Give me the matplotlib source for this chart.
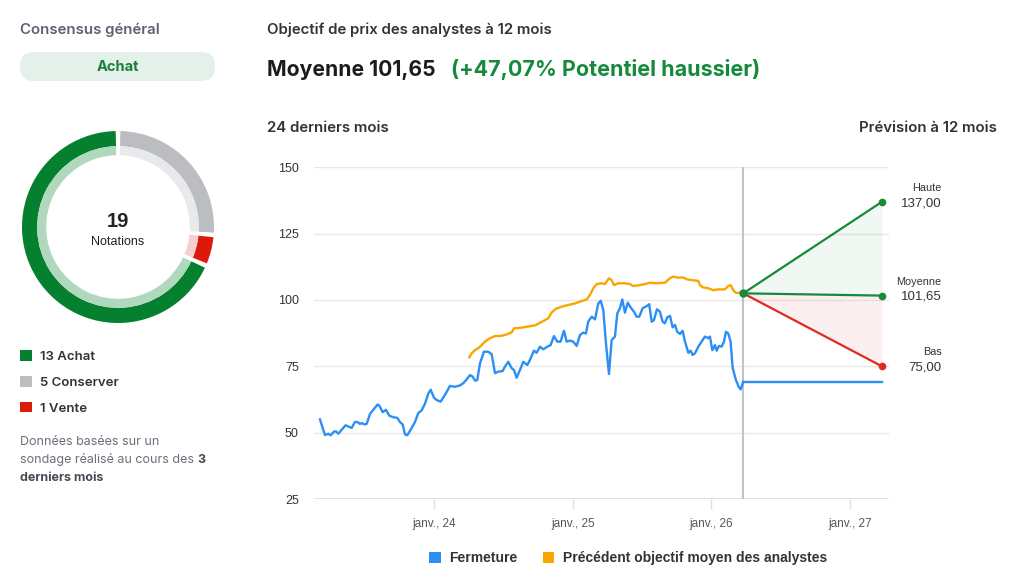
import numpy as np
import matplotlib
matplotlib.use("Agg")
import matplotlib.pyplot as plt
from matplotlib.patches import Wedge, FancyBboxPatch, Patch

# ---- data -------------------------------------------------------------
ratings = ["Achat", "Conserver", "Vente"]
rating_counts = [13, 5, 1]
ring_order = ["Conserver", "Vente", "Achat"]   # clockwise from 12 o'clock

# closing price (decimal years)
close_t = [2023.178, 2023.214, 2023.238, 2023.255, 2023.279, 2023.293, 2023.310, 2023.335,
           2023.363, 2023.382, 2023.407, 2023.430, 2023.450, 2023.466, 2023.481, 2023.497,
           2023.515, 2023.539, 2023.562, 2023.594, 2023.606, 2023.630, 2023.654, 2023.678,
           2023.707, 2023.735, 2023.755, 2023.774, 2023.791, 2023.807, 2023.832, 2023.863,
           2023.887, 2023.911, 2023.935, 2023.959, 2023.976, 2024.000, 2024.019, 2024.048,
           2024.072, 2024.092, 2024.115, 2024.151, 2024.187, 2024.211, 2024.236, 2024.260,
           2024.279, 2024.296, 2024.312, 2024.332, 2024.360, 2024.391, 2024.416, 2024.440,
           2024.464, 2024.495, 2024.512, 2024.536, 2024.560, 2024.577, 2024.596, 2024.620,
           2024.644, 2024.673, 2024.692, 2024.721, 2024.740, 2024.764, 2024.788, 2024.817,
           2024.841, 2024.865, 2024.889, 2024.913, 2024.937, 2024.957, 2024.981, 2025.004,
           2025.029, 2025.053, 2025.076, 2025.096, 2025.112, 2025.137, 2025.161, 2025.185,
           2025.202, 2025.221, 2025.240, 2025.262, 2025.281, 2025.305, 2025.322, 2025.341,
           2025.358, 2025.377, 2025.397, 2025.418, 2025.442, 2025.461, 2025.480, 2025.505,
           2025.534, 2025.552, 2025.570, 2025.586, 2025.608, 2025.629, 2025.649, 2025.665,
           2025.682, 2025.702, 2025.721, 2025.738, 2025.754, 2025.774, 2025.793, 2025.810,
           2025.834, 2025.851, 2025.865, 2025.882, 2025.906, 2025.930, 2025.954, 2025.978,
           2025.990, 2026.007, 2026.026, 2026.038, 2026.055, 2026.074, 2026.091, 2026.105,
           2026.122, 2026.139, 2026.154, 2026.177, 2026.197, 2026.211, 2026.230]
close_v = [55.0, 49.1, 49.6, 49.0, 50.4, 50.5, 49.6, 51.1,
           52.8, 52.3, 51.8, 54.0, 54.0, 53.3, 53.6, 53.1,
           53.3, 57.1, 58.6, 60.6, 60.2, 57.7, 58.6, 56.4,
           55.8, 55.6, 54.0, 53.1, 49.4, 49.0, 51.1, 54.0,
           57.4, 58.4, 60.9, 64.7, 66.2, 63.2, 62.3, 61.7,
           63.6, 65.4, 67.6, 67.3, 67.8, 68.6, 70.1, 71.7,
           71.1, 69.6, 69.8, 76.1, 80.5, 80.5, 79.6, 72.4,
           73.0, 73.2, 74.9, 76.7, 74.3, 73.6, 70.7, 73.6,
           76.7, 75.5, 77.4, 80.9, 80.1, 82.4, 81.4, 82.4,
           83.0, 86.4, 84.3, 84.3, 88.4, 84.3, 84.7, 84.3,
           82.7, 86.8, 87.7, 87.4, 91.8, 93.7, 92.7, 98.7,
           99.7, 96.2, 83.7, 72.1, 84.9, 86.2, 95.0, 96.9,
           100.2, 95.2, 99.0, 97.2, 95.6, 93.7, 93.7, 96.9,
           97.7, 98.4, 91.8, 92.4, 96.5, 95.6, 91.8, 91.2,
           93.5, 94.0, 89.7, 90.6, 88.0, 87.2, 88.4, 84.3,
           80.1, 80.9, 79.3, 79.9, 82.4, 84.3, 86.2, 85.6,
           86.2, 81.1, 83.0, 80.9, 82.7, 82.4, 84.3, 88.0,
           87.4, 84.3, 74.3, 69.9, 67.3, 66.3, 69.1]
last_close = 69.12

# previous average analyst target
target_t = [2024.255, 2024.272, 2024.296, 2024.319, 2024.344, 2024.368, 2024.404, 2024.440,
            2024.488, 2024.524, 2024.560, 2024.577, 2024.620, 2024.668, 2024.728, 2024.764,
            2024.793, 2024.824, 2024.849, 2024.880, 2024.921, 2024.968, 2025.017, 2025.065,
            2025.101, 2025.125, 2025.149, 2025.173, 2025.209, 2025.233, 2025.262, 2025.281,
            2025.298, 2025.329, 2025.377, 2025.413, 2025.433, 2025.473, 2025.521, 2025.557,
            2025.606, 2025.665, 2025.702, 2025.725, 2025.761, 2025.797, 2025.822, 2025.858,
            2025.906, 2025.918, 2025.937, 2025.978, 2026.014, 2026.050, 2026.098, 2026.122,
            2026.139, 2026.158, 2026.177, 2026.201, 2026.230]
target_v = [78.4, 79.9, 81.1, 81.8, 83.0, 84.3, 85.6, 86.4,
            86.5, 87.0, 87.8, 89.3, 89.5, 89.9, 90.4, 91.4,
            92.2, 93.1, 95.3, 96.7, 97.5, 98.1, 98.7, 99.6,
            100.2, 101.9, 104.4, 106.0, 106.3, 106.0, 108.2, 107.5,
            105.6, 106.3, 106.3, 106.0, 105.3, 105.5, 106.0, 106.5,
            106.3, 106.5, 108.2, 108.8, 108.4, 108.5, 107.8, 107.5,
            107.2, 105.6, 104.8, 104.4, 103.7, 104.0, 104.0, 105.3,
            105.6, 103.7, 102.7, 102.7, 102.5]

# 12 month forecast
fc_start, fc_end = 2026.23, 2027.23
fc_from = 102.5
fc_high, fc_mean, fc_low = 137.00, 101.65, 75.00
upside = 47.07

yticks = [25, 50, 75, 100, 125, 150]
xtick_years = [2024, 2025, 2026, 2027]
xtick_labels = ["janv., 24", "janv., 25", "janv., 26", "janv., 27"]

# ---- style ------------------------------------------------------------
W, H = 1024, 577
GREEN, GREY, RED = "#04802f", "#bcbdc1", "#dc1a0a"
GREEN_L, GREY_L, RED_L = "#afd8bd", "#e8e9eb", "#f7cfcd"
BLUE, ORANGE = "#2b8ff3", "#fba500"
FC_GREEN, FC_RED = "#168a3c", "#e02a1e"
HEAD = ["Inter", "DejaVu Sans"]
CHART = ["Liberation Sans", "DejaVu Sans"]


def fbox(x0, y0, x1, y1):
    return [x0 / W, 1 - y1 / H, (x1 - x0) / W, (y1 - y0) / H]


def fr(v):
    return f"{v:.2f}".replace(".", ",")


fig = plt.figure(figsize=(W / 100, H / 100), dpi=100)

# overlay in pixel coords for the page texts
bg = fig.add_axes([0, 0, 1, 1])
bg.set_xlim(0, W)
bg.set_ylim(H, 0)
bg.axis("off")

bg.text(20, 30, "Consensus général", family=HEAD, fontsize=10.8, weight="semibold",
        color="#5d6170", va="center")
bg.add_patch(FancyBboxPatch((20, 52), 195, 29, boxstyle="round,pad=0,rounding_size=14",
                            fc="#e4f0ea", ec="none"))
bg.text(117.5, 67, ratings[0], family=HEAD, fontsize=10.5, weight="bold", color="#1a7f3c",
        ha="center", va="center")

bg.text(267, 30, "Objectif de prix des analystes à 12 mois", family=HEAD, fontsize=10.8,
        weight="semibold", color="#333333", va="center")
t_avg = bg.text(267, 70, "Moyenne " + fr(fc_mean), family=HEAD, fontsize=15.2, weight="bold",
                color="#1c1c1c", va="center")
bg.annotate(f"(+{fr(upside)}% Potentiel haussier)", xy=(1, 0), xycoords=t_avg,
            xytext=(11, 0), textcoords="offset points", family=HEAD, fontsize=15.5,
            weight="bold", color=FC_GREEN, va="bottom")
bg.text(267, 128, "24 derniers mois", family=HEAD, fontsize=10.8, weight="semibold",
        color="#333333", va="center")
bg.text(997, 128, "Prévision à 12 mois", family=HEAD, fontsize=10.8, weight="semibold",
        color="#333333", va="center", ha="right")

# note under the donut legend
note_kw = dict(family=HEAD, fontsize=9, color="#6d6e7c", va="baseline")
bg.text(20, 445, "Données basées sur un", **note_kw)
t_n2 = bg.text(20, 463, "sondage réalisé au cours des ", **note_kw)
fig.canvas.draw()
x_3 = bg.transData.inverted().transform(
    t_n2.get_window_extent(fig.canvas.get_renderer()).get_points())[1, 0]
bg.text(x_3, 463, "3", family=HEAD, fontsize=9, weight="bold", color="#4a4a55",
        va="baseline")
bg.text(20, 481, "derniers mois", family=HEAD, fontsize=9, weight="bold", color="#4a4a55",
        va="baseline")

# ---- donut --------------------------------------------------------------
dax = fig.add_axes(fbox(22, 131, 214, 323))
dax.set_xlim(-1, 1)
dax.set_ylim(-1, 1)
dax.set_aspect("equal")
dax.axis("off")
counts = dict(zip(ratings, rating_counts))
total = sum(rating_counts)
colors_d = {"Achat": GREEN, "Conserver": GREY, "Vente": RED}
colors_l = {"Achat": GREEN_L, "Conserver": GREY_L, "Vente": RED_L}
gap = 1.4
ang = 90.0
for name in ring_order:
    span = counts[name] / total * 360
    a1, a0 = ang - gap, ang - span + gap
    dax.add_patch(Wedge((0, 0), 1.0, a0, a1, width=0.158, fc=colors_d[name], ec="none"))
    dax.add_patch(Wedge((0, 0), 0.842, a0, a1, width=0.094, fc=colors_l[name], ec="none"))
    ang -= span
dax.text(0, 0.06, str(total), ha="center", va="center", fontsize=14.5, weight="bold",
         family=CHART, color="#222222")
dax.text(0, -0.16, "Notations", ha="center", va="center", fontsize=9, family=CHART,
         color="#222222")

leg1 = fig.legend(handles=[Patch(fc=colors_d[n], ec="none") for n in ratings],
                  labels=[f"{c} {n}" for n, c in zip(ratings, rating_counts)],
                  loc="upper left", bbox_to_anchor=(8 / W, 1 - 338.5 / H), frameon=False,
                  handlelength=0.9, handleheight=0.9, handletextpad=0.65,
                  labelspacing=0.95, prop=dict(family=HEAD, size=9.5, weight="semibold"))
for t in leg1.get_texts():
    t.set_color("#333333")

# ---- main chart ---------------------------------------------------------
ax = fig.add_axes(fbox(314, 167.3, 889, 499))
ax.set_xlim(2023.135, 2027.281)
ax.set_ylim(25, 150)
for s in ax.spines.values():
    s.set_visible(False)
ax.set_yticks(yticks)
ax.set_yticklabels([str(v) for v in yticks], family=CHART, fontsize=9, color="#333333")
ax.tick_params(axis="y", length=0, pad=11)
ax.grid(axis="y", color="#e8e8e8", lw=1)
ax.axhline(25, color="#dcdcdc", lw=1.2, zorder=1)
ax.set_xticks(xtick_years)
ax.set_xticklabels(xtick_labels, family=CHART, fontsize=8.5, color="#555555")
ax.tick_params(axis="x", length=7, width=1, color="#e0e0e0", pad=7)
ax.set_axisbelow(True)

ax.axvline(fc_start, color="#c2c2c2", lw=1.5, zorder=2)

ax.plot(close_t, close_v, color=BLUE, lw=1.7, zorder=3, solid_joinstyle="round")
ax.plot([close_t[-1], fc_end], [last_close, last_close], color=BLUE, lw=1.7, zorder=3)
ax.plot(target_t, target_v, color=ORANGE, lw=1.7, zorder=3, solid_joinstyle="round")

fx = [fc_start, fc_end]
ax.fill_between(fx, [fc_from, fc_mean], [fc_from, fc_high], color=FC_GREEN, alpha=0.06, lw=0)
ax.fill_between(fx, [fc_from, fc_low], [fc_from, fc_mean], color=FC_RED, alpha=0.07, lw=0)
ax.plot(fx, [fc_from, fc_high], color=FC_GREEN, lw=1.6, zorder=4)
ax.plot(fx, [fc_from, fc_mean], color=FC_GREEN, lw=1.6, zorder=4)
ax.plot(fx, [fc_from, fc_low], color=FC_RED, lw=1.6, zorder=4)
ax.plot([fc_end, fc_end], [fc_high, fc_mean], ls="none", marker="o", ms=4.5, color=FC_GREEN,
        zorder=5)
ax.plot([fc_end], [fc_low], ls="none", marker="o", ms=4.5, color=FC_RED, zorder=5)
ax.plot([fc_start], [fc_from], ls="none", marker="o", ms=5, color=FC_GREEN, zorder=5)

for name, val in [("Haute", fc_high), ("Moyenne", fc_mean), ("Bas", fc_low)]:
    ax.annotate(name, xy=(fc_end, val), xytext=(43, 10), textcoords="offset points",
                ha="right", va="center", family=CHART, fontsize=7.8, color="#333333",
                annotation_clip=False)
    ax.annotate(fr(val), xy=(fc_end, val), xytext=(43, -1), textcoords="offset points",
                ha="right", va="center", family=CHART, fontsize=9.5, color="#333333",
                annotation_clip=False)

leg2 = fig.legend(handles=[Patch(fc=BLUE, ec="none"), Patch(fc=ORANGE, ec="none")],
                  labels=["Fermeture", "Précédent objectif moyen des analystes"],
                  loc="center", bbox_to_anchor=(628 / W, 1 - 558 / H), ncol=2, frameon=False,
                  handlelength=0.85, handleheight=0.85, handletextpad=0.6, columnspacing=1.8,
                  prop=dict(family=CHART, size=10, weight="bold"))
for t in leg2.get_texts():
    t.set_color("#333333")

fig.savefig("out.png", dpi=100, facecolor="white")
